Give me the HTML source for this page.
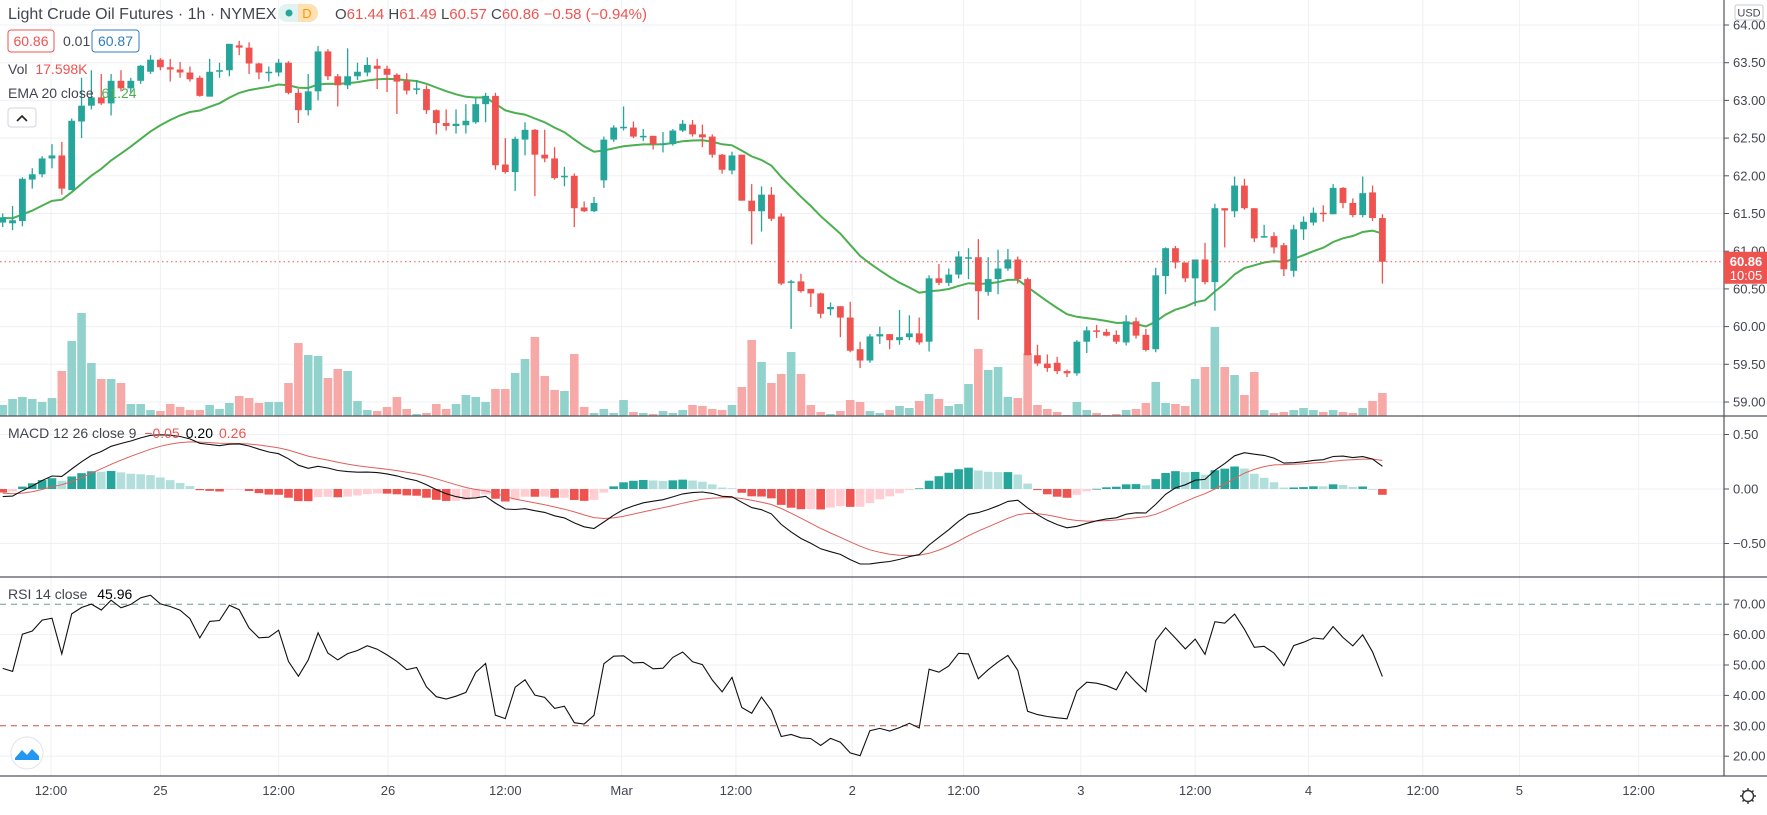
<!DOCTYPE html>
<html><head><meta charset="utf-8">
<style>
html,body{margin:0;padding:0;background:#fff;}
svg{display:block;font-family:"Liberation Sans",sans-serif;}
</style></head>
<body>
<svg id="chart" width="1767" height="815" viewBox="0 0 1767 815" xmlns="http://www.w3.org/2000/svg">
  <rect x="0" y="0" width="1767" height="815" fill="#ffffff"/>
  <g id="grid"></g>
  <g id="volume"></g>
  <g id="candles"></g>
  <g id="macd"></g>
  <g id="rsi"></g>
  <g id="axes"></g>

  <!-- header -->
  <text x="8" y="19" font-size="16" fill="#434651">Light Crude Oil Futures · 1h · NYMEX</text>
  <g>
    <rect x="278" y="4" width="40" height="18" rx="9" fill="#e0f2f1"/>
    <rect x="298" y="4" width="20" height="18" rx="9" fill="#ffe0b2"/>
    <rect x="298" y="4" width="8" height="18" fill="#ffe0b2"/>
    <circle cx="289" cy="13" r="3.5" fill="#26a69a"/>
    <text x="307" y="18" font-size="13" fill="#ff9800" text-anchor="middle">D</text>
  </g>
  <text x="335" y="19" font-size="15"><tspan fill="#434651">O</tspan><tspan fill="#ef5350">61.44 </tspan><tspan fill="#434651">H</tspan><tspan fill="#ef5350">61.49 </tspan><tspan fill="#434651">L</tspan><tspan fill="#ef5350">60.57 </tspan><tspan fill="#434651">C</tspan><tspan fill="#ef5350">60.86 −0.58 (−0.94%)</tspan></text>
  <g>
    <rect x="8" y="30" width="46" height="22" rx="3" fill="#fff" stroke="#ef5350"/>
    <text x="31" y="46" font-size="14" fill="#ef5350" text-anchor="middle">60.86</text>
  </g>
  <text x="63" y="46" font-size="14" fill="#434651">0.01</text>
  <g>
    <rect x="92" y="30" width="47" height="22" rx="3" fill="#fff" stroke="#2f7bc0"/>
    <text x="115.5" y="46" font-size="14" fill="#2f7bc0" text-anchor="middle">60.87</text>
  </g>
  <text x="8" y="74" font-size="14"><tspan fill="#434651">Vol </tspan><tspan fill="#ef5350" dx="4">17.598K</tspan></text>
  <text x="8" y="98" font-size="14"><tspan fill="#434651">EMA 20 close </tspan><tspan fill="#4caf50" dx="4">61.24</tspan></text>
  <g>
    <rect x="8" y="108" width="28" height="19" rx="3" fill="#fff" stroke="#d1d4dc"/>
    <path d="M17 121 L22 116 L27 121" fill="none" stroke="#222" stroke-width="1.6"/>
  </g>
  <text x="8" y="438" font-size="14"><tspan fill="#434651">MACD 12 26 close 9 </tspan><tspan fill="#ef5350" dx="4">−0.05</tspan><tspan fill="#000" dx="6">0.20</tspan><tspan fill="#ef5350" dx="6">0.26</tspan></text>
  <text x="8" y="599" font-size="14"><tspan fill="#434651">RSI 14 close </tspan><tspan fill="#000" dx="6">45.96</tspan></text>
  <g>
    <circle cx="27" cy="753" r="16" fill="#fff" stroke="#e0e3eb"/>
    <path d="M15 758 L22 750 L27 755 L32 749 L39 756 L39 760 L15 760 Z" fill="#2196f3"/>
  </g>
  <g>
    <rect x="1735" y="5" width="28" height="15" rx="2" fill="#fff" stroke="#c8cbd2"/>
    <text x="1749" y="16.5" font-size="11" fill="#434651" text-anchor="middle">USD</text>
  </g>
  <g>
    <circle cx="1748" cy="796" r="5.5" fill="none" stroke="#333" stroke-width="1.4"/>
    <path d="M1748 788v3M1748 801v3M1740 796h3M1753 796h3M1742.5 790.5l2 2M1751.5 799.5l2 2M1742.5 801.5l2-2M1751.5 792.5l2-2" stroke="#333" stroke-width="1.4"/>
  </g>
</svg>
<script>
// ---------- data ----------
const openP=[61.38,61.37,61.40,61.95,62.02,62.23,62.27,61.81,62.72,62.93,63.04,62.96,63.26,63.16,63.26,63.38,63.54,63.44,63.41,63.37,63.30,63.05,63.38,63.40,63.73,63.70,63.49,63.37,63.37,63.50,63.10,62.87,63.12,63.65,63.32,63.20,63.32,63.37,63.46,63.42,63.34,63.26,63.15,63.15,62.87,62.70,62.66,62.67,62.71,62.95,63.06,62.15,62.05,62.48,62.61,62.28,62.23,61.98,62.00,61.58,61.53,61.94,62.48,62.63,62.64,62.52,62.53,62.42,62.42,62.60,62.68,62.55,62.52,62.28,62.07,62.28,61.67,61.53,61.75,61.46,60.58,60.60,60.50,60.44,60.23,60.27,60.12,59.70,59.55,59.87,59.90,59.82,59.86,59.91,59.80,60.64,60.58,60.69,60.91,60.92,60.46,60.63,60.77,60.89,60.63,59.62,59.51,59.52,59.41,59.38,59.80,59.95,59.93,59.89,59.79,60.07,59.89,59.70,60.67,61.04,60.85,60.64,60.89,60.59,61.57,61.53,61.87,61.57,61.19,61.20,61.08,60.74,61.29,61.38,61.51,61.49,61.84,61.64,61.48,61.78,61.44];
const highP=[61.50,61.60,61.98,62.10,62.26,62.42,62.45,62.76,63.30,63.40,63.35,63.35,63.40,63.30,63.47,63.60,63.56,63.55,63.51,63.45,63.33,63.55,63.50,63.75,63.79,63.77,63.50,63.45,63.55,63.52,63.15,63.35,63.72,63.68,63.35,63.69,63.50,63.57,63.55,63.46,63.36,63.36,63.27,63.20,62.88,62.88,62.88,62.95,63.05,63.10,63.10,62.50,62.52,62.71,62.62,62.61,62.38,62.12,62.03,61.66,61.72,62.52,62.67,62.92,62.72,62.62,62.53,62.58,62.62,62.74,62.74,62.68,62.55,62.29,62.32,62.28,61.89,61.86,61.85,61.50,60.62,60.70,60.50,60.45,60.32,60.27,60.33,59.80,59.90,60.00,59.90,60.22,60.15,60.12,60.68,60.83,60.77,61.00,61.04,61.16,60.92,61.02,61.03,60.93,60.65,59.76,59.63,59.60,59.43,59.82,60.00,60.02,59.97,59.95,60.15,60.12,59.97,60.78,61.05,61.07,60.85,60.89,61.11,61.63,61.57,61.99,61.96,61.57,61.35,61.25,61.11,61.35,61.46,61.58,61.61,61.89,61.85,61.70,61.99,61.87,61.49];
const lowP=[61.32,61.28,61.33,61.83,61.98,62.10,61.75,61.81,62.50,62.88,62.94,62.80,63.12,63.10,63.22,63.35,63.40,63.25,63.30,63.25,63.05,63.05,63.30,63.32,63.60,63.35,63.28,63.25,63.32,63.08,62.70,62.80,63.00,63.27,62.92,63.15,63.27,63.32,63.15,63.11,62.82,63.08,63.08,62.82,62.55,62.60,62.56,62.56,62.69,62.71,62.08,62.03,61.80,62.27,61.73,62.18,61.95,61.86,61.32,61.52,61.52,61.84,62.45,62.60,62.50,62.46,62.35,62.31,62.40,62.58,62.52,62.38,62.24,62.03,62.02,61.67,61.09,61.26,61.40,60.55,59.97,60.45,60.26,60.11,60.15,59.86,59.66,59.45,59.52,59.77,59.70,59.76,59.82,59.76,59.67,60.55,60.54,60.64,60.63,60.09,60.41,60.43,60.74,60.57,59.62,59.48,59.40,59.37,59.33,59.35,59.65,59.85,59.87,59.77,59.75,59.84,59.67,59.66,60.43,60.77,60.59,60.27,60.56,60.21,61.05,61.45,61.55,61.12,61.18,60.97,60.67,60.66,61.15,61.34,61.39,61.49,61.57,61.45,61.45,61.40,60.57];
const closeP=[61.45,61.41,61.96,62.02,62.23,62.27,61.83,62.73,62.93,63.04,62.96,63.26,63.16,63.26,63.46,63.54,63.44,63.41,63.37,63.28,63.06,63.38,63.40,63.75,63.70,63.49,63.37,63.38,63.50,63.10,62.87,63.12,63.65,63.32,63.20,63.32,63.38,63.47,63.42,63.34,63.25,63.13,63.16,62.87,62.70,62.66,62.69,62.73,62.95,63.06,62.14,62.05,62.49,62.61,62.28,62.23,61.97,62.00,61.57,61.53,61.64,62.48,62.64,62.65,62.52,62.53,62.42,62.43,62.60,62.69,62.55,62.51,62.28,62.08,62.27,61.67,61.53,61.75,61.43,60.57,60.60,60.47,60.44,60.17,60.26,60.12,59.68,59.55,59.87,59.90,59.82,59.86,59.91,59.79,60.64,60.58,60.69,60.93,60.92,60.47,60.63,60.77,60.89,60.63,59.62,59.51,59.45,59.41,59.38,59.80,59.95,59.93,59.88,59.80,60.07,59.88,59.69,60.68,61.04,60.85,60.64,60.89,60.59,61.57,61.54,61.87,61.57,61.17,61.20,61.05,60.76,61.29,61.39,61.51,61.49,61.84,61.64,61.48,61.77,61.44,60.86];
const volumeK=[11,17,19,17,14,18,45,75,103,53,37,37,33,12,12,6,5,12,9,6,6,11,7,13,20,18,13,14,14,33,73,61,60,38,47,45,15,6,5,9,19,7,2,3,12,7,12,21,19,14,27,27,43,57,79,40,26,25,62,9,3,7,3,16,4,3,2,5,3,6,11,10,7,6,11,29,76,54,33,42,64,42,11,4,2,5,16,14,5,3,6,10,8,15,22,17,10,12,32,67,46,49,19,18,63,11,7,4,1,14,6,3,1,2,6,7,13,34,13,12,10,37,49,89,49,41,21,44,6,3,4,6,8,6,4,6,4,3,8,15,23];
const priceTicks=[64.00,63.50,63.00,62.50,62.00,61.50,61.00,60.50,60.00,59.50,59.00];
const macdTicks=[0.5,0,-0.5];
const macdTickLabels=["0.50","0.00","−0.50"];
const rsiTicks=[70,60,50,40,30,20];
const timeTickLabels=["12:00","25","12:00","26","12:00","Mar","12:00","2","12:00","3","12:00","4","12:00","5","12:00"];
const timeTickBars=[4.9,16.0,28.0,39.1,51.0,62.8,74.4,86.2,97.5,109.4,121.0,132.5,144.1,153.9,166.0];
// indicator seeds (state before first visible bar)
const emaSeed=61.44, ema12Seed=61.40, ema26Seed=61.48, signalSeed=-0.03, rsiGainSeed=0.075, rsiLossSeed=0.08;

// ---------- scales ----------
const AXIS_X=1724;
const xOf=i=>2.7+i*9.855;
const yPrice=p=>25+(64-p)*75.4;
const yMacd=v=>489-v*109;
const yRsi=v=>665-(v-50)*3.04;
const maxVol=Math.max(...volumeK);
const yVol=v=>416-v/maxVol*103;
const UP="#26a69a",DN="#ef5350";
const NS="http://www.w3.org/2000/svg";
function mk(tag,attrs,parent){const e=document.createElementNS(NS,tag);for(const k in attrs)e.setAttribute(k,attrs[k]);parent.appendChild(e);return e;}
const gGrid=document.getElementById('grid'),gVol=document.getElementById('volume'),gC=document.getElementById('candles'),gM=document.getElementById('macd'),gR=document.getElementById('rsi'),gA=document.getElementById('axes');

// ---------- grid ----------
priceTicks.forEach(p=>{const l=mk('line',{x1:0,x2:AXIS_X,y1:yPrice(p),y2:yPrice(p),stroke:'#eef0f3'},gGrid);

});
macdTicks.forEach(v=>{const l=mk('line',{x1:0,x2:AXIS_X,y1:yMacd(v),y2:yMacd(v),stroke:'#eef0f3'},gGrid);

});
rsiTicks.forEach(v=>{if(v===70||v===30)return;const l=mk('line',{x1:0,x2:AXIS_X,y1:yRsi(v),y2:yRsi(v),stroke:'#eef0f3'},gGrid);

});
timeTickBars.forEach(b=>{const x=xOf(b);const l=mk('line',{x1:x,x2:x,y1:0,y2:776,stroke:'#eef0f3'},gGrid);

});

// ---------- volume ----------
volumeK.forEach((v,i)=>{const up=closeP[i]>=openP[i];const y=yVol(v);
const r=mk('rect',{x:xOf(i)-4.3,y:y,width:8.6,height:416-y,fill:up?'#92d2cc':'#f7a9a7'},gVol);

});

// ---------- EMA 20 ----------
let ema=emaSeed;const emaPts=[];
closeP.forEach((c,i)=>{ema=ema+(c-ema)*2/21;emaPts.push(xOf(i).toFixed(1)+','+yPrice(ema).toFixed(1));});
const emaLine=mk('polyline',{points:emaPts.join(' '),fill:'none',stroke:'#4caf50','stroke-width':2},gC);



// ---------- candles ----------
closeP.forEach((c,i)=>{const o=openP[i],up=c>=o,col=up?UP:DN,x=xOf(i);
const w=mk('line',{x1:x,x2:x,y1:yPrice(highP[i]),y2:yPrice(lowP[i]),stroke:col,'stroke-width':1.3},gC);


const top=yPrice(Math.max(o,c)),h=Math.max(1.5,yPrice(Math.min(o,c))-top);
const b=mk('rect',{x:x-3.4,y:top,width:6.8,height:h,fill:col},gC);

});
const lastY=yPrice(closeP[closeP.length-1]);
const pl=mk('line',{x1:0,x2:AXIS_X,y1:lastY,y2:lastY,stroke:DN,'stroke-dasharray':'1.5,3'},gC);



// ---------- MACD ----------
let e12=ema12Seed,e26=ema26Seed,sig=signalSeed;const macdV=[],sigV=[],histV=[];
closeP.forEach(c=>{e12+=(c-e12)*2/13;e26+=(c-e26)*2/27;const m=e12-e26;sig+=(m-sig)*2/10;macdV.push(m);sigV.push(sig);histV.push(m-sig);});
histV.forEach((h,i)=>{const prev=i>0?histV[i-1]:h;let col;
if(h>=0)col=h>=prev?'#26a69a':'#b2dfdb';else col=h<=prev?'#ef5350':'#ffcdd2';
const y0=yMacd(0),y1=yMacd(h);
const r=mk('rect',{x:xOf(i)-4.3,y:Math.min(y0,y1),width:8.6,height:Math.max(0.8,Math.abs(y1-y0)),fill:col},gM);

});
const sl=mk('polyline',{points:sigV.map((v,i)=>xOf(i).toFixed(1)+','+yMacd(v).toFixed(1)).join(' '),fill:'none',stroke:'#e0605b','stroke-width':1},gM);


const ml=mk('polyline',{points:macdV.map((v,i)=>xOf(i).toFixed(1)+','+yMacd(v).toFixed(1)).join(' '),fill:'none',stroke:'#111','stroke-width':1.1},gM);



// ---------- RSI ----------
let ag=rsiGainSeed,al=rsiLossSeed,prevC=closeP[0]-0.02;const rsiV=[];
closeP.forEach(c=>{const d=c-prevC;prevC=c;ag=(ag*13+Math.max(d,0))/14;al=(al*13+Math.max(-d,0))/14;rsiV.push(100-100/(1+ag/al));});
const l70=mk('line',{x1:0,x2:AXIS_X,y1:yRsi(70),y2:yRsi(70),stroke:'#6a9f8a','stroke-dasharray':'6,5'},gR);


const l30=mk('line',{x1:0,x2:AXIS_X,y1:yRsi(30),y2:yRsi(30),stroke:'#c0504d','stroke-dasharray':'6,5'},gR);


const rl=mk('polyline',{points:rsiV.map((v,i)=>xOf(i).toFixed(1)+','+yRsi(v).toFixed(1)).join(' '),fill:'none',stroke:'#111','stroke-width':1.1},gR);



// ---------- axes ----------
[416,577,776].forEach(y=>{const l=mk('line',{x1:0,x2:1767,y1:y,y2:y,stroke:'#50535e','stroke-width':1.2},gA);

});
const ax=mk('line',{x1:AXIS_X,x2:AXIS_X,y1:0,y2:776,stroke:'#50535e','stroke-width':1.2},gA);


function axisLabel(y,txt,name){const t=mk('line',{x1:AXIS_X,x2:AXIS_X+5,y1:y,y2:y,stroke:'#50535e'},gA);


const s=mk('text',{x:AXIS_X+9,y:y+4.5,'font-size':13,fill:'#434651'},gA);s.textContent=txt;

}
priceTicks.forEach(p=>axisLabel(yPrice(p),p.toFixed(2),'price-axis'));
macdTicks.forEach((v,i)=>axisLabel(yMacd(v),macdTickLabels[i],'macd-axis'));
rsiTicks.forEach(v=>axisLabel(yRsi(v),v.toFixed(2),'rsi-axis'));
timeTickBars.forEach((b,i)=>{const x=xOf(b);if(x>AXIS_X-10)return;
const t=mk('text',{x:x,y:795,'font-size':13,fill:'#434651','text-anchor':'middle'},gA);t.textContent=timeTickLabels[i];

});
const pb=mk('rect',{x:AXIS_X,y:lastY-10,width:43,height:32,fill:DN},gA);


const pt=mk('text',{x:AXIS_X+22,y:lastY+4,'font-size':13,fill:'#fff','text-anchor':'middle','font-weight':'bold'},gA);pt.textContent=closeP[closeP.length-1].toFixed(2);


const ct=mk('text',{x:AXIS_X+22,y:lastY+18,'font-size':13,fill:'#fff','text-anchor':'middle'},gA);ct.textContent='10:05';


</script>
</body></html>
